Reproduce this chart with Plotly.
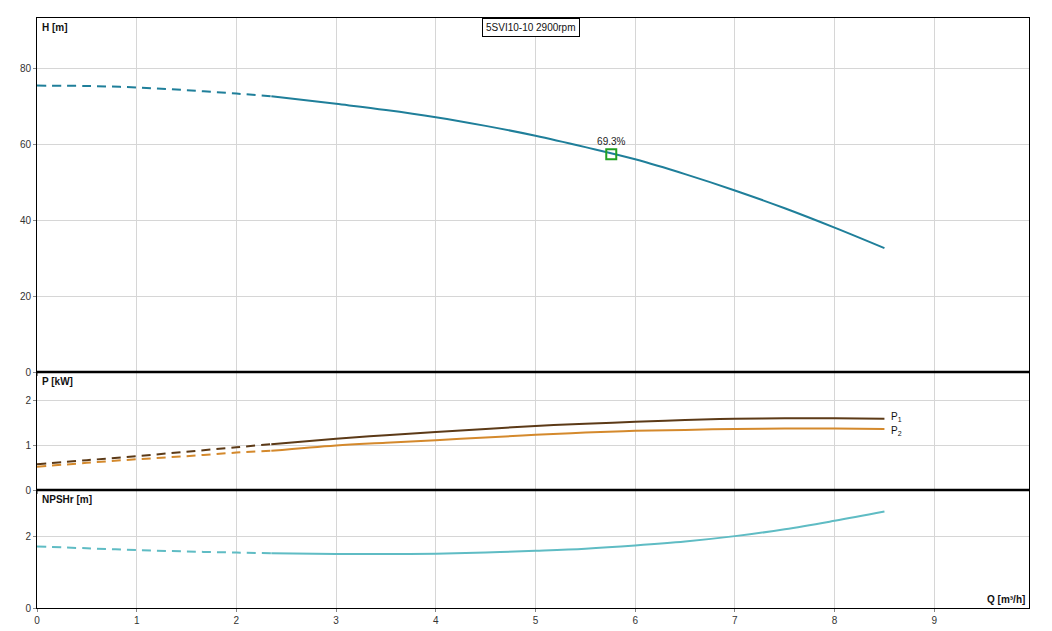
import plotly.graph_objects as go
from plotly.subplots import make_subplots

# flow points (m3/h) for dashed (out of range) and solid parts
Q_DASH = [0, 0.5, 1, 1.5, 2, 2.35]
Q_SOLID = [2.35, 3, 3.5, 4, 4.5, 5, 5.5, 6, 6.5, 7, 7.5, 8, 8.5]

H_DASH = [75.4, 75.3, 74.9, 74.2, 73.3, 72.6]
H_SOLID = [72.6, 70.6, 69.0, 67.1, 64.8, 62.2, 59.2, 56.0, 52.1, 47.8, 43.1, 38.0, 32.6]

P1_DASH = [0.58, 0.67, 0.76, 0.86, 0.96, 1.03]
P1_SOLID = [1.03, 1.15, 1.23, 1.30, 1.37, 1.44, 1.49, 1.53, 1.57, 1.60, 1.61, 1.61, 1.60]
P2_DASH = [0.52, 0.61, 0.69, 0.76, 0.84, 0.88]
P2_SOLID = [0.88, 1.00, 1.06, 1.12, 1.18, 1.24, 1.29, 1.33, 1.35, 1.37, 1.38, 1.38, 1.37]

NPSH_DASH = [1.72, 1.67, 1.62, 1.58, 1.55, 1.53]
NPSH_SOLID = [1.53, 1.51, 1.51, 1.52, 1.55, 1.60, 1.66, 1.75, 1.86, 2.01, 2.20, 2.44, 2.70]

BEP_Q, BEP_H, BEP_LABEL = 5.76, 57.3, "69.3%"
TITLE = "5SVI10-10 2900rpm"

C_H = "#1f7f9a"
C_P1 = "#5c3a17"
C_P2 = "#d4892c"
C_NPSH = "#5fbcc4"
FONT = "Liberation Sans, Arial, sans-serif"

fig = make_subplots(rows=3, cols=1, shared_xaxes=True, vertical_spacing=0,
                    row_heights=[0.6, 0.2, 0.2])


def curve(x, y, color, row, dash):
    fig.add_trace(go.Scatter(
        x=x, y=y, mode="lines", line=dict(color=color, width=2, dash=dash, shape="spline"),
        showlegend=False, hoverinfo="skip"), row=row, col=1)


DASH = "9px,6px"
curve(Q_DASH, H_DASH, C_H, 1, DASH)
curve(Q_SOLID, H_SOLID, C_H, 1, "solid")
curve(Q_DASH, P1_DASH, C_P1, 2, DASH)
curve(Q_SOLID, P1_SOLID, C_P1, 2, "solid")
curve(Q_DASH, P2_DASH, C_P2, 2, DASH)
curve(Q_SOLID, P2_SOLID, C_P2, 2, "solid")
curve(Q_DASH, NPSH_DASH, C_NPSH, 3, DASH)
curve(Q_SOLID, NPSH_SOLID, C_NPSH, 3, "solid")

# best efficiency point
fig.add_trace(go.Scatter(
    x=[BEP_Q], y=[BEP_H], mode="markers+text", text=[BEP_LABEL], textposition="top center",
    textfont=dict(size=10, color="#222", family=FONT),
    marker=dict(symbol="square-open", size=10, color="#22a022", line=dict(width=2)),
    showlegend=False, hoverinfo="skip"), row=1, col=1)

axis_style = dict(showgrid=True, gridcolor="#d6d6d6", gridwidth=1, zeroline=False,
                  showline=True, linecolor="black", linewidth=1, mirror=True,
                  ticks="outside", ticklen=3, tickcolor="#888",
                  tickfont=dict(size=10, color="#333", family=FONT))

for r in (1, 2, 3):
    fig.update_xaxes(range=[0, 9.95], dtick=1, showticklabels=(r == 3), row=r, col=1, **axis_style)
fig.update_yaxes(range=[0, 93.2], dtick=20, row=1, col=1, **axis_style)
fig.update_yaxes(range=[0, 2.65], dtick=1, row=2, col=1, **axis_style)
fig.update_yaxes(range=[0, 3.3], dtick=2, row=3, col=1, **axis_style)

# thick separators between panels
for yy in (0.2, 0.4):
    fig.add_shape(type="line", xref="paper", yref="paper", x0=0, x1=1, y0=yy, y1=yy,
                  line=dict(color="black", width=2.5))

lab = dict(showarrow=False, font=dict(size=10, color="#111", family=FONT))
fig.add_annotation(text="<b>H [m]</b>", xref="x domain", yref="y domain", x=0.003, y=0.995,
                   xanchor="left", yanchor="top", **lab)
fig.add_annotation(text="<b>P [kW]</b>", xref="x2 domain", yref="y2 domain", x=0.003, y=0.98,
                   xanchor="left", yanchor="top", **lab)
fig.add_annotation(text="<b>NPSHr [m]</b>", xref="x3 domain", yref="y3 domain", x=0.003, y=0.98,
                   xanchor="left", yanchor="top", **lab)
fig.add_annotation(text="<b>Q [m³/h]</b>", xref="x3 domain", yref="y3 domain", x=0.998, y=0.01,
                   xanchor="right", yanchor="bottom", **lab)
fig.add_annotation(text="P<sub>1</sub>", x=8.55, y=P1_SOLID[-1], xref="x2", yref="y2",
                   xanchor="left", yanchor="middle", yshift=2, **lab)
fig.add_annotation(text="P<sub>2</sub>", x=8.55, y=P2_SOLID[-1], xref="x2", yref="y2",
                   xanchor="left", yanchor="middle", yshift=-2, **lab)

fig.add_annotation(text=TITLE, xref="paper", yref="paper", x=0.498, y=1.0, xanchor="center",
                   yanchor="top", showarrow=False, bgcolor="white", bordercolor="black",
                   borderwidth=1, borderpad=3, font=dict(size=10, color="#111", family=FONT))

fig.update_layout(
    width=1052, height=631,
    margin=dict(l=29, r=31, t=10, b=31),
    paper_bgcolor="white", plot_bgcolor="white",
    font=dict(family=FONT),
)

fig.write_html("out.html")
